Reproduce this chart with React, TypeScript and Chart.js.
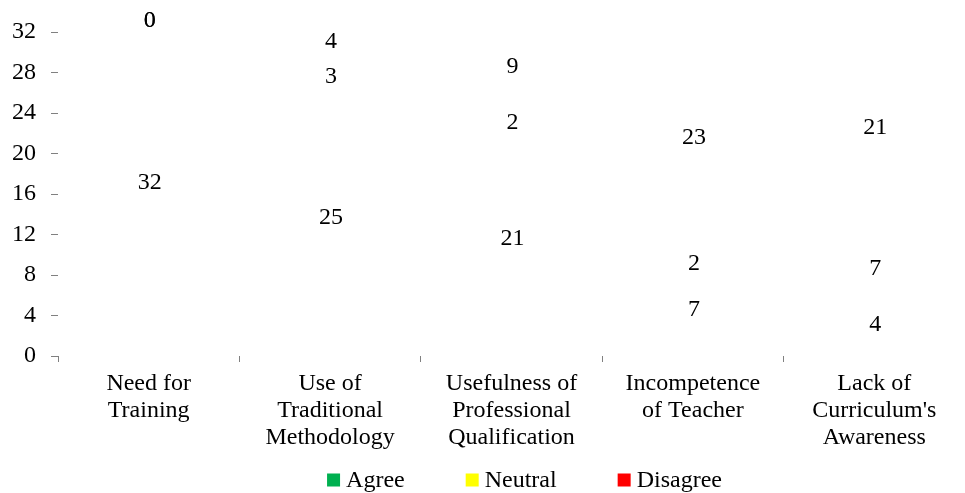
import React, { useEffect, useRef } from "react";
import { Chart, registerables } from "chart.js";

Chart.register(...registerables);

const categories: string[][] = [
  ["Need for", "Training"],
  ["Use of", "Traditional", "Methodology"],
  ["Usefulness of", "Professional", "Qualification"],
  ["Incompetence", "of Teacher"],
  ["Lack of", "Curriculum's", "Awareness"],
];
const agreeValues = [32, 25, 21, 7, 4];
const neutralValues = [0, 3, 2, 2, 7];
const disagreeValues = [0, 4, 9, 23, 21];
const seriesNames = ["Agree", "Neutral", "Disagree"];
const seriesColors = ["#00B050", "#FFFF00", "#FF0000"];
const yMin = 0;
const yMax = 32;
const yStep = 4;

const FONT_FAMILY = '"Liberation Serif", "Times New Roman", serif';
const FONT_SIZE = 24;

const valueLabelsPlugin = {
  id: "valueLabels",
  afterDatasetsDraw(chart: any) {
    const ctx = chart.ctx;
    ctx.save();
    ctx.font = `${FONT_SIZE}px ${FONT_FAMILY}`;
    ctx.fillStyle = "#000";
    ctx.textAlign = "center";
    ctx.textBaseline = "middle";
    chart.data.datasets.forEach((ds: any, i: number) => {
      const meta = chart.getDatasetMeta(i);
      meta.data.forEach((el: any, j: number) => {
        const p = el.getProps(["x", "y", "base"], true);
        ctx.fillText(String(ds.data[j]), p.x + 1, (p.y + p.base) / 2 - 11);
      });
    });
    ctx.restore();
  },
};

const customLegendPlugin = {
  id: "customLegend",
  afterDraw(chart: any) {
    const ctx = chart.ctx;
    ctx.save();
    ctx.font = `${FONT_SIZE}px ${FONT_FAMILY}`;
    ctx.textBaseline = "middle";
    ctx.textAlign = "left";
    const box = 13;
    const gapText = 6;
    const gapItem = 61;
    const names: string[] = chart.data.datasets.map((d: any) => d.label);
    const widths = names.map((n) => ctx.measureText(n).width);
    let total = 0;
    widths.forEach((w, i) => {
      total += box + gapText + w + (i < widths.length - 1 ? gapItem : 0);
    });
    const cx = (chart.chartArea.left + chart.chartArea.right) / 2 + 13;
    let x = cx - total / 2;
    const cy = chart.height - 13;
    names.forEach((n, i) => {
      ctx.fillStyle = chart.data.datasets[i].legendColor;
      ctx.fillRect(x, cy - box / 2, box, box);
      x += box + gapText;
      ctx.fillStyle = "#000";
      ctx.fillText(n, x, cy + 1);
      x += widths[i] + gapItem;
    });
    ctx.restore();
  },
};

export default function App() {
  const canvasRef = useRef<HTMLCanvasElement | null>(null);

  useEffect(() => {
    document.body.style.margin = "0";
    const canvas = canvasRef.current;
    if (!canvas) return;
    const seriesData = [agreeValues, neutralValues, disagreeValues];
    const chart = new Chart(canvas, {
      type: "bar",
      data: {
        labels: categories,
        datasets: seriesData.map((d, i) => ({
          label: seriesNames[i],
          data: d,
          backgroundColor: "rgba(0,0,0,0)",
          borderWidth: 0,
          legendColor: seriesColors[i],
        })) as any,
      },
      options: {
        responsive: false,
        animation: false,
        layout: { padding: { top: 32, right: 0, bottom: 37, left: 0 } },
        plugins: {
          legend: { display: false },
          tooltip: { enabled: false },
        },
        scales: {
          x: {
            stacked: true,
            grid: {
              drawOnChartArea: false,
              drawTicks: true,
              tickLength: 6,
              tickColor: "#808080",
              offset: true,
            },
            border: { display: false },
            ticks: {
              color: "#000",
              font: { family: FONT_FAMILY, size: FONT_SIZE, lineHeight: 1.125 },
              padding: 8,
              maxRotation: 0,
              autoSkip: false,
            },
            afterFit: (scale: any) => {
              scale.height = 100;
            },
          },
          y: {
            stacked: true,
            min: yMin,
            max: yMax,
            grid: {
              drawOnChartArea: false,
              drawTicks: true,
              tickLength: 7,
              tickColor: "#808080",
            },
            border: { display: false },
            ticks: {
              stepSize: yStep,
              color: "#000",
              font: { family: FONT_FAMILY, size: FONT_SIZE },
              padding: 15,
            },
            afterFit: (scale: any) => {
              scale.width = 58;
            },
          },
        },
      },
      plugins: [valueLabelsPlugin, customLegendPlugin],
    });
    return () => chart.destroy();
  }, []);

  return (
    <div style={{ width: 965, height: 493 }}>
      <canvas ref={canvasRef} width={965} height={493} />
    </div>
  );
}
